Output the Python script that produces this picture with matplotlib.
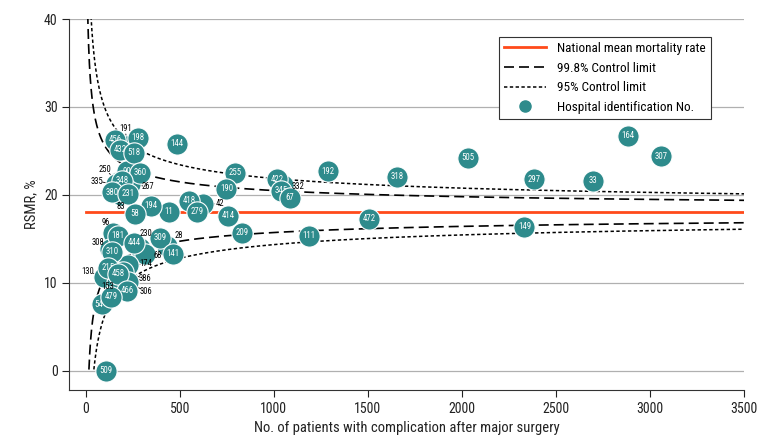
import numpy as np
import matplotlib
matplotlib.use("Agg")
import matplotlib.pyplot as plt
from matplotlib import font_manager

names = {f.name for f in font_manager.fontManager.ttflist}
fam = [f for f in ["Liberation Sans Narrow", "Roboto Condensed", "Open Sans Condensed", "DejaVu Sans"] if f in names]
plt.rcParams['font.family'] = fam + ["DejaVu Sans"]

# ---------------- data ----------------
national_mean = 18.1
z_inner = 1.96   # drawn long-dashed, legend "99.8% Control limit"
z_outer = 3.09   # drawn short-dashed, legend "95% Control limit"

# hidden / partially hidden hospitals (drawn first)
hidden_ids = ["191", "250", "335", "267", "83", "96", "230", "28", "68", "308",
              "174", "130", "386", "153", "306", "42", "332", "90", "54"]
hidden_n = [221, 173, 162, 237, 189, 146, 290, 433, 317, 130,
            226, 98, 200, 168, 226, 625, 1050, 221, 88]
hidden_rsmr = [25.5, 21.5, 21.2, 21.25, 20.0, 15.7, 14.0, 14.2, 13.3, 13.8,
               12.05, 10.7, 11.25, 10.0, 10.1, 18.9, 21.1, 22.7, 7.6]

vis_ids = ["456", "198", "432", "518", "144", "360", "348", "380", "231", "255",
           "190", "418", "279", "414", "11", "194", "58", "181", "444", "309",
           "141", "310", "215", "458", "466", "479", "509", "209", "111", "472",
           "149", "422", "345", "67", "192", "318", "505", "297", "33", "164", "307"]
vis_n = [157, 279, 184, 258, 486, 290, 194, 141, 226, 795,
         748, 551, 592, 758, 444, 348, 263, 173, 258, 396,
         465, 141, 120, 173, 221, 136, 109, 831, 1187, 1507,
         2331, 1017, 1039, 1087, 1289, 1655, 2033, 2384, 2698, 2882, 3058]
vis_rsmr = [26.25, 26.5, 25.1, 24.8, 25.8, 22.5, 21.6, 20.3, 20.1, 22.5,
            20.7, 19.3, 18.1, 17.6, 18.1, 18.75, 17.85, 15.35, 14.55, 15.1,
            13.3, 13.5, 11.7, 11.0, 9.1, 8.4, 0.0, 15.7, 15.35, 17.3,
            16.35, 21.8, 20.45, 19.65, 22.7, 22.05, 24.2, 21.8, 21.6, 26.7, 24.4]

# external label offsets (pixels) for hidden hospitals with leader lines
ext_offsets = {"191": (-2, 18), "250": (-13, 12), "335": (-19, 3), "267": (18, -3),
               "83": (0, -12), "96": (-7, 10), "230": (6, 14), "28": (12, 10),
               "68": (12, -2), "308": (-12, 7), "174": (18, 1), "130": (-16, 5),
               "386": (22, -7), "153": (-10, -4), "306": (18, -10), "42": (17, 1),
               "332": (15, -1)}
# inner-label shifts (pixels) for partly covered circles
inner_shift = {"54": (-3, -1)}

teal = "#2e8b8c"
red = "#ff4a1a"

fig = plt.figure(figsize=(7.8, 4.45), dpi=100)
ax = fig.add_axes([0.089, 0.1236, 0.8654, 0.8337])

# control limits
n = np.linspace(1, 3500, 4000)
p = national_mean / 100
sd = np.sqrt(p * (1 - p) / n) * 100
def masked(v):
    v = v.copy()
    v[v < 0] = np.nan
    return v
l_in, = ax.plot(n, national_mean + z_inner * sd, color="black", lw=1.2, ls=(0, (6, 3)), zorder=2)
ax.plot(n, masked(national_mean - z_inner * sd), color="black", lw=1.2, ls=(0, (6, 3)), zorder=2)
l_out, = ax.plot(n, national_mean + z_outer * sd, color="black", lw=1.1, ls=(0, (2.2, 1.6)), zorder=2)
ax.plot(n, masked(national_mean - z_outer * sd), color="black", lw=1.1, ls=(0, (2.2, 1.6)), zorder=2)
l_mean, = ax.plot([0, 3500], [national_mean, national_mean], color=red, lw=2, zorder=2.5)

# points
z = 3.0
for hid, xn, yv in zip(hidden_ids, hidden_n, hidden_rsmr):
    ax.scatter([xn], [yv], s=235, color=teal, edgecolor="white", linewidth=0.8, zorder=z)
    if hid in ext_offsets:
        dx, dy = ext_offsets[hid]
        ax.annotate("", xy=(xn, yv), xytext=(dx, dy), textcoords="offset pixels",
                    arrowprops=dict(arrowstyle="-", color="black", lw=0.6, shrinkA=4, shrinkB=0),
                    zorder=2.9)
        ax.annotate(hid, xy=(xn, yv), xytext=(dx, dy), textcoords="offset pixels",
                    fontsize=6.2, color="black", ha="center", va="center", zorder=20)
    else:
        dx, dy = inner_shift.get(hid, (0, 0))
        ax.annotate(hid, xy=(xn, yv), xytext=(dx, dy), textcoords="offset pixels",
                    fontsize=6.3, color="white", ha="center", va="center", zorder=z + 0.01)
    z += 0.02
for hid, xn, yv in zip(vis_ids, vis_n, vis_rsmr):
    ax.scatter([xn], [yv], s=235, color=teal, edgecolor="white", linewidth=0.8, zorder=z)
    ax.text(xn, yv, hid, fontsize=6.3, color="white", ha="center", va="center", zorder=z + 0.01)
    z += 0.02

ax.set_xlim(-86, 3500)
ax.set_ylim(-2.2, 40)
ax.set_xticks(np.arange(0, 3501, 500))
ax.set_yticks([0, 10, 20, 30, 40])
ax.yaxis.grid(True, color="#b0b0b0", lw=0.9)
ax.set_axisbelow(True)
for s in ["top", "right"]:
    ax.spines[s].set_visible(False)
for s in ["left", "bottom"]:
    ax.spines[s].set_color("#333333")
ax.tick_params(labelsize=10, colors="#222222", length=5)
ax.set_xlabel("No. of patients with complication after major surgery", fontsize=10.5, color="#222222")
ax.set_ylabel("RSMR, %", fontsize=10.5, color="#222222")

h_pt = plt.Line2D([], [], ls="none", marker="o", markersize=8, color=teal)
leg = ax.legend([l_mean, l_in, l_out, h_pt],
                ["National mean mortality rate", "99.8% Control limit", "95% Control limit",
                 "Hospital identification No."],
                loc="upper right", bbox_to_anchor=(0.96, 0.97), fontsize=9.5,
                fancybox=False, edgecolor="#333333", framealpha=1, handlelength=3.2)
leg.get_frame().set_linewidth(0.8)
leg.set_zorder(30)

fig.savefig("out.png", dpi=100)
